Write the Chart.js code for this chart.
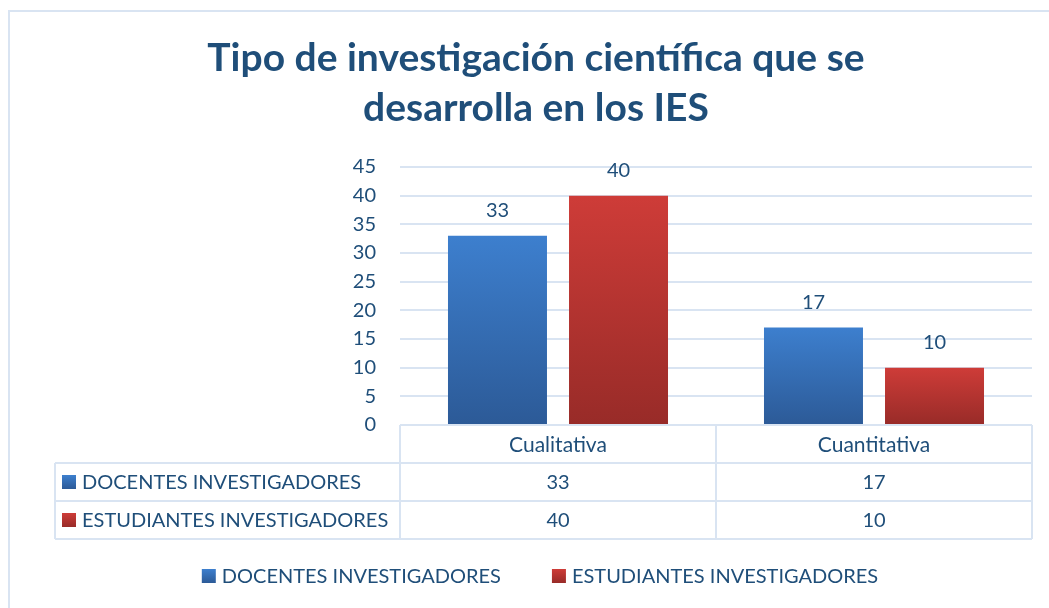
<!DOCTYPE html>
<html>
<head>
<meta charset="utf-8">
<script src="https://cdn.jsdelivr.net/npm/chart.js@4"></script>
<style>
  body { margin: 0; background: #fff; }
  #wrap { position: relative; width: 1049px; height: 608px; overflow: hidden; }
  #frame { position: absolute; left: 8px; top: 10px; width: 1200px; height: 800px;
           border-left: 2px solid #D9E4F2; border-top: 2px solid #D9E4F2; }
  canvas { position: absolute; left: 0; top: 0; }
</style>
</head>
<body>
<div id="wrap">
  <div id="frame"></div>
  <canvas id="chart" width="1049" height="608"></canvas>
</div>
<script>
const categories = ['Cualitativa', 'Cuantitativa'];
const seriesNames = ['DOCENTES INVESTIGADORES', 'ESTUDIANTES INVESTIGADORES'];
const docentes = [33, 17];
const estudiantes = [40, 10];
const yTicks = [0, 5, 10, 15, 20, 25, 30, 35, 40, 45];

const FONT = 'Lato';
const TEXT = '#1F4E79';
const LINE = '#D9E4F2';
const gradStops = [['#3D7FCE', '#2C5A97'], ['#CE3C38', '#982B28']];

function barGradient(ctx) {
  const chart = ctx.chart;
  if (!chart.chartArea || ctx.type !== 'data') return gradStops[ctx.datasetIndex][0];
  const y = chart.scales.y;
  const top = y.getPixelForValue(ctx.raw);
  const bottom = y.getPixelForValue(0);
  const g = chart.ctx.createLinearGradient(0, top, 0, bottom);
  g.addColorStop(0, gradStops[ctx.datasetIndex][0]);
  g.addColorStop(1, gradStops[ctx.datasetIndex][1]);
  return g;
}

function key(ctx, x, yc, i) {
  const g = ctx.createLinearGradient(0, yc - 7, 0, yc + 7);
  g.addColorStop(0, gradStops[i][0]);
  g.addColorStop(1, gradStops[i][1]);
  ctx.fillStyle = g;
  ctx.fillRect(x, yc - 7, 14, 14);
}

// value labels, data table and bottom legend
const extras = {
  id: 'extras',
  afterDraw(chart) {
    const ctx = chart.ctx;
    const area = chart.chartArea;
    const xs = chart.scales.x;
    const font = '20px ' + FONT;
    ctx.save();
    ctx.font = font;
    ctx.fillStyle = TEXT;
    ctx.textAlign = 'center';
    ctx.textBaseline = 'middle';

    chart.data.datasets.forEach((ds, di) => {
      chart.getDatasetMeta(di).data.forEach((el, i) => {
        ctx.fillText(String(ds.data[i]), el.x, el.y - 25);
      });
    });

    // table grid
    const tLeft = 55, r0 = area.bottom, rowH = 38;
    const r1 = r0 + rowH, r2 = r1 + rowH, r3 = r2 + rowH;
    const half = (xs.getPixelForValue(1) - xs.getPixelForValue(0)) / 2;
    const cols = [area.left];
    categories.forEach((c, i) => cols.push(xs.getPixelForValue(i) + half));
    ctx.strokeStyle = LINE;
    ctx.lineWidth = 2;
    ctx.beginPath();
    [r1, r2, r3].forEach(y => { ctx.moveTo(tLeft, y); ctx.lineTo(area.right, y); });
    ctx.moveTo(tLeft, r1); ctx.lineTo(tLeft, r3);
    cols.forEach(x => { ctx.moveTo(x, r0); ctx.lineTo(x, r3); });
    ctx.stroke();

    const rows = [[r1, r2], [r2, r3]];
    chart.data.datasets.forEach((ds, di) => {
      const yc = (rows[di][0] + rows[di][1]) / 2;
      key(ctx, 62, yc, di);
      ctx.fillStyle = TEXT;
      ctx.textAlign = 'left';
      ctx.fillText(ds.label, 82, yc + 1);
      ctx.textAlign = 'center';
      ds.data.forEach((v, i) => ctx.fillText(String(v), xs.getPixelForValue(i), yc + 1));
    });

    // bottom legend
    const ly = 576, gap = 6, spacing = 51;
    const widths = seriesNames.map(n => 14 + gap + ctx.measureText(n).width);
    let lx = 540 - (widths[0] + widths[1] + spacing) / 2;
    seriesNames.forEach((n, i) => {
      key(ctx, lx, ly, i);
      ctx.fillStyle = TEXT;
      ctx.textAlign = 'left';
      ctx.fillText(n, lx + 14 + gap, ly + 1);
      lx += widths[i] + spacing;
    });
    ctx.restore();
  }
};

new Chart(document.getElementById('chart'), {
  type: 'bar',
  data: {
    labels: categories,
    datasets: [
      { label: seriesNames[0], data: docentes, backgroundColor: barGradient },
      { label: seriesNames[1], data: estudiantes, backgroundColor: barGradient }
    ]
  },
  options: {
    responsive: false,
    animation: false,
    categoryPercentage: 0.766,
    barPercentage: 0.818,
    layout: { padding: { left: 40, right: 17, top: 0, bottom: 70 } },
    plugins: {
      legend: { display: false },
      tooltip: { enabled: false },
      title: {
        display: true,
        text: ['Tipo de investigación científica que se', 'desarrolla en los IES'],
        color: TEXT,
        font: { family: FONT, size: 39, weight: 'bold', lineHeight: 50 / 39 },
        padding: { top: 33, bottom: 34 }
      }
    },
    scales: {
      x: {
        grid: { display: false },
        border: { display: false },
        ticks: { color: TEXT, font: { family: FONT, size: 21 }, padding: 0 },
        afterFit(scale) { scale.height = 113; }
      },
      y: {
        min: 0,
        max: 45,
        afterBuildTicks(scale) { scale.ticks = yTicks.map(v => ({ value: v })); },
        grid: { color: LINE, lineWidth: 2, drawTicks: false },
        border: { display: false },
        ticks: { color: TEXT, font: { family: FONT, size: 20 }, padding: 24 },
        afterFit(scale) { scale.width = 360; }
      }
    }
  },
  plugins: [extras]
});
</script>
</body>
</html>
